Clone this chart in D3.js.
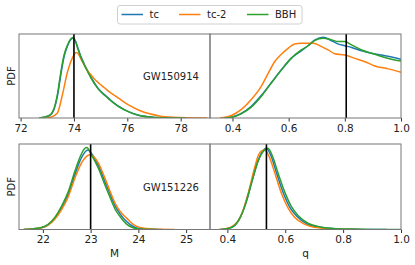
<!DOCTYPE html>
<html>
<head>
<meta charset="utf-8">
<script src="https://cdnjs.cloudflare.com/ajax/libs/d3/7.8.5/d3.min.js"></script>
<style>
  body { margin: 0; background: #fff; }
  text { font-family: "DejaVu Sans", sans-serif; }
</style>
</head>
<body>
<div id="chart-area"></div>
<script>
// series names and colours
var seriesNames = ["tc", "tc-2", "BBH"]
var seriesColors = ["#1f77b4", "#ff7f0e", "#2ca02c"]

// GW150914, chirp mass M : [M, relative density]
var m150914Tc = [[72.7,0],[73.07,0.025],[73.26,0.11],[73.38,0.26],[73.51,0.52],[73.63,0.73],[73.76,0.86],[73.88,0.935],[73.96,0.95],[74.05,0.92],[74.14,0.84],[74.25,0.74],[74.39,0.64],[74.52,0.555],[74.65,0.48],[74.9,0.355],[75.15,0.275],[75.33,0.225],[75.52,0.175],[75.7,0.135],[76.08,0.07],[76.46,0.03],[76.95,0.01],[77.5,0.003],[78.2,0]]
var m150914Tc2 = [[72.9,0],[73.13,0.01],[73.38,0.06],[73.57,0.28],[73.76,0.55],[73.88,0.67],[74.0,0.75],[74.08,0.78],[74.17,0.76],[74.25,0.71],[74.37,0.64],[74.5,0.57],[74.62,0.52],[74.75,0.47],[74.95,0.41],[75.14,0.36],[75.33,0.31],[75.52,0.27],[75.7,0.23],[76.08,0.15],[76.46,0.09],[76.84,0.05],[77.2,0.025],[77.7,0.008],[78.2,0.002],[79.0,0]]
var m150914Bbh = [[72.7,0],[73.07,0.03],[73.26,0.12],[73.38,0.28],[73.51,0.55],[73.63,0.75],[73.76,0.87],[73.88,0.94],[73.95,0.957],[74.05,0.92],[74.14,0.83],[74.25,0.73],[74.39,0.63],[74.52,0.55],[74.65,0.47],[74.9,0.35],[75.15,0.27],[75.33,0.22],[75.52,0.17],[75.7,0.13],[76.08,0.07],[76.46,0.03],[76.95,0.01],[77.5,0.003],[78.2,0]]

// GW150914, mass ratio q
var q150914Tc = [[0.37,0],[0.396,0.01],[0.431,0.055],[0.467,0.14],[0.503,0.27],[0.538,0.42],[0.574,0.575],[0.609,0.71],[0.645,0.8],[0.669,0.86],[0.694,0.93],[0.723,0.96],[0.753,0.92],[0.777,0.88],[0.8,0.86],[0.824,0.84],[0.86,0.8],[0.895,0.77],[0.943,0.74],[1.0,0.7]]
var q150914Tc2 = [[0.355,0],[0.396,0.03],[0.431,0.1],[0.467,0.22],[0.503,0.38],[0.527,0.53],[0.55,0.67],[0.574,0.76],[0.598,0.83],[0.621,0.88],[0.645,0.89],[0.67,0.89],[0.688,0.89],[0.717,0.85],[0.741,0.81],[0.764,0.765],[0.8,0.75],[0.836,0.71],[0.872,0.67],[0.907,0.62],[0.954,0.585],[1.0,0.545]]
var q150914Bbh = [[0.37,0],[0.396,0.008],[0.431,0.05],[0.467,0.13],[0.503,0.26],[0.538,0.415],[0.574,0.57],[0.609,0.71],[0.645,0.81],[0.669,0.86],[0.694,0.925],[0.723,0.95],[0.753,0.93],[0.777,0.91],[0.8,0.91],[0.824,0.87],[0.86,0.81],[0.895,0.77],[0.943,0.72],[0.978,0.69],[1.0,0.68]]

// GW151226, chirp mass M
var m151226Tc = [[21.6,0],[21.97,0.02],[22.11,0.055],[22.25,0.13],[22.39,0.25],[22.53,0.41],[22.67,0.64],[22.8,0.83],[22.94,0.93],[23.02,0.89],[23.16,0.75],[23.3,0.56],[23.44,0.37],[23.51,0.28],[23.62,0.18],[23.76,0.09],[23.89,0.035],[24.03,0.01],[24.5,0]]
var m151226Tc2 = [[21.6,0],[21.97,0.02],[22.11,0.05],[22.25,0.12],[22.39,0.23],[22.53,0.38],[22.67,0.6],[22.81,0.78],[22.99,0.875],[23.16,0.78],[23.3,0.6],[23.44,0.4],[23.51,0.31],[23.62,0.21],[23.76,0.13],[23.89,0.06],[24.03,0.025],[24.3,0.005],[24.75,0]]
var m151226Bbh = [[21.6,0],[21.97,0.024],[22.11,0.06],[22.25,0.14],[22.39,0.27],[22.53,0.44],[22.67,0.68],[22.78,0.85],[22.88,0.95],[22.92,0.96],[23.02,0.87],[23.16,0.72],[23.3,0.52],[23.44,0.33],[23.51,0.24],[23.62,0.15],[23.76,0.06],[23.89,0.02],[24.03,0.005],[24.4,0]]

// GW151226, mass ratio q
var q151226Tc = [[0.375,0],[0.412,0.022],[0.44,0.11],[0.465,0.32],[0.488,0.6],[0.51,0.84],[0.525,0.93],[0.535,0.95],[0.552,0.85],[0.57,0.66],[0.593,0.43],[0.616,0.26],[0.64,0.155],[0.675,0.065],[0.72,0.025],[0.77,0.01],[0.85,0.002],[0.95,0]]
var q151226Tc2 = [[0.37,0],[0.41,0.025],[0.446,0.15],[0.47,0.4],[0.494,0.72],[0.506,0.86],[0.518,0.92],[0.529,0.93],[0.546,0.84],[0.564,0.66],[0.587,0.42],[0.61,0.25],[0.633,0.14],[0.668,0.06],[0.7,0.025],[0.75,0.01],[0.8,0.003],[0.85,0]]
var q151226Bbh = [[0.378,0],[0.412,0.02],[0.435,0.09],[0.46,0.27],[0.483,0.54],[0.506,0.8],[0.523,0.91],[0.54,0.95],[0.558,0.84],[0.575,0.66],[0.598,0.44],[0.621,0.27],[0.645,0.16],[0.68,0.07],[0.72,0.03],[0.767,0.013],[0.824,0.005],[0.9,0.001],[1.0,0]]

// injected (true) values
var truthM = [74.0, 23.0]
var truthQ = [0.805, 0.535]
var eventNames = ["GW150914", "GW151226"]

// axis ticks
var ticksM150914 = [72, 74, 76, 78]
var ticksM151226 = [22, 23, 24, 25]
var ticksQ = [0.4, 0.6, 0.8, 1.0]

var width = 415, height = 265
var svg = d3.select("#chart-area")
    .append("svg")
    .attr("width", width)
    .attr("height", height)

var panels = [
    { x0: 19, x1: 210, y0: 34, y1: 118, domain: [71.94, 79.1], ticks: ticksM150914, fmt: d3.format("d"),
      series: [m150914Tc, m150914Tc2, m150914Bbh], truth: truthM[0], label: eventNames[0], ylabel: true },
    { x0: 210, x1: 401, y0: 34, y1: 118, domain: [0.32, 1.0], ticks: ticksQ, fmt: d3.format(".1f"),
      series: [q150914Tc, q150914Tc2, q150914Bbh], truth: truthQ[0] },
    { x0: 19, x1: 210, y0: 144, y1: 229.5, domain: [21.5, 25.5], ticks: ticksM151226, fmt: d3.format("d"),
      series: [m151226Tc, m151226Tc2, m151226Bbh], truth: truthM[1], label: eventNames[1], ylabel: true, xlabel: "M" },
    { x0: 210, x1: 401, y0: 144, y1: 229.5, domain: [0.34, 1.0], ticks: ticksQ, fmt: d3.format(".1f"),
      series: [q151226Tc, q151226Tc2, q151226Bbh], truth: truthQ[1], xlabel: "q" }
]

panels.forEach(function(p, i) {
    var x = d3.scaleLinear().domain(p.domain).range([p.x0, p.x1])
    var y = d3.scaleLinear().domain([0, 1]).range([p.y1, p.y0])

    svg.append("clipPath")
        .attr("id", "clip" + i)
        .append("rect")
        .attr("x", p.x0).attr("y", p.y0 - 2)
        .attr("width", p.x1 - p.x0).attr("height", p.y1 - p.y0 + 2)

    var line = d3.line()
        .x(d => x(d[0]))
        .y(d => y(d[1]))
        .curve(d3.curveMonotoneX)

    var g = svg.append("g").attr("clip-path", "url(#clip" + i + ")")
    p.series.forEach(function(s, j) {
        g.append("path")
            .attr("d", line(s))
            .attr("fill", "none")
            .attr("stroke", seriesColors[j])
            .attr("stroke-width", 1.5)
    })

    g.append("line")
        .attr("x1", x(p.truth)).attr("x2", x(p.truth))
        .attr("y1", p.y0).attr("y2", p.y1)
        .attr("stroke", "#000")
        .attr("stroke-width", 1.6)

    var xAxis = d3.axisBottom(x)
        .tickValues(p.ticks)
        .tickFormat(p.fmt)
        .tickSizeOuter(0)
        .tickSize(3.5)
        .tickPadding(3)
    var ax = svg.append("g")
        .attr("transform", "translate(0," + p.y1 + ")")
        .call(xAxis)
    ax.select(".domain").remove()
    ax.selectAll(".tick line").attr("stroke", "#333")
    ax.selectAll(".tick text")
        .attr("font-family", "DejaVu Sans")
        .attr("font-size", "10.5px")
        .attr("fill", "#222")

    svg.append("rect")
        .attr("x", p.x0).attr("y", p.y0)
        .attr("width", p.x1 - p.x0).attr("height", p.y1 - p.y0)
        .attr("fill", "none")
        .attr("stroke", "#777")
        .attr("stroke-width", 1)

    if (p.label) {
        svg.append("text")
            .attr("x", 171).attr("y", (p.y0 + p.y1) / 2 + 4)
            .attr("text-anchor", "middle")
            .attr("font-size", "10px")
            .attr("fill", "#222")
            .text(p.label)
    }
    if (p.ylabel) {
        svg.append("text")
            .attr("transform", "translate(11," + ((p.y0 + p.y1) / 2) + ") rotate(-90)")
            .attr("text-anchor", "middle")
            .attr("dy", "0.35em")
            .attr("font-size", "10px")
            .attr("fill", "#222")
            .text("PDF")
    }
    if (p.xlabel) {
        svg.append("text")
            .attr("x", (p.x0 + p.x1) / 2).attr("y", 257)
            .attr("text-anchor", "middle")
            .attr("font-size", "10.5px")
            .attr("fill", "#222")
            .text(p.xlabel)
    }
})

// legend
var legend = svg.append("g")
legend.append("rect")
    .attr("x", 117.5).attr("y", 5.5)
    .attr("width", 184.5).attr("height", 18.5)
    .attr("rx", 2.5)
    .attr("fill", "#fff")
    .attr("stroke", "#d0d0d0")
var legendX = [121.5, 179, 247]
seriesNames.forEach(function(name, j) {
    legend.append("line")
        .attr("x1", legendX[j]).attr("x2", legendX[j] + 21.5)
        .attr("y1", 14.5).attr("y2", 14.5)
        .attr("stroke", seriesColors[j])
        .attr("stroke-width", 1.5)
    legend.append("text")
        .attr("x", legendX[j] + 28).attr("y", 14.5)
        .attr("dy", "0.35em")
        .attr("font-size", "10px")
        .attr("fill", "#222")
        .text(name)
})
</script>
</body>
</html>
